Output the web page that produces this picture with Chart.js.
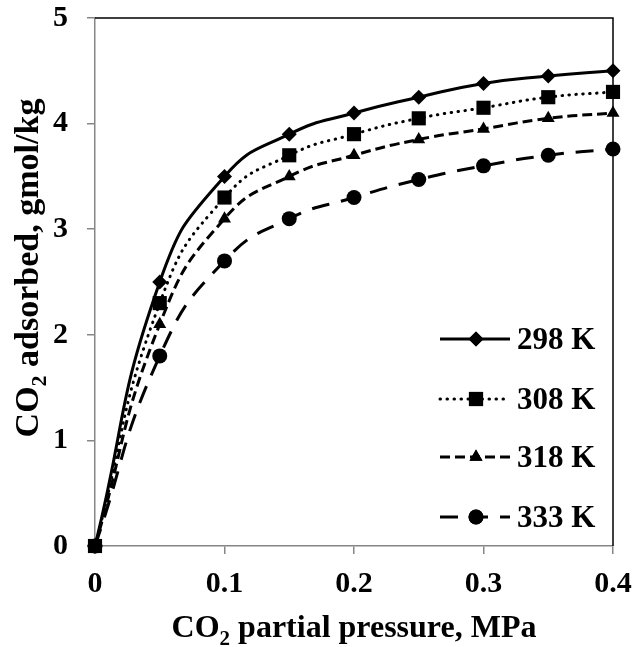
<!DOCTYPE html>
<html>
<head>
<meta charset="utf-8">
<script src="https://cdn.jsdelivr.net/npm/chart.js@4.4.1/dist/chart.umd.min.js"></script>
<style>
  html, body { margin: 0; padding: 0; background: #fff; }
  #wrap { width: 644px; height: 647px; }
</style>
</head>
<body>
<div id="wrap"><canvas id="isoChart" width="644" height="647"></canvas></div>
<script>
// Adsorption isotherm data
const pressure = [0, 0.05, 0.1, 0.15, 0.2, 0.25, 0.3, 0.35, 0.4];
const k298 = [0, 2.5, 3.5, 3.9, 4.1, 4.25, 4.38, 4.45, 4.5];
const k308 = [0, 2.3, 3.3, 3.7, 3.9, 4.05, 4.15, 4.25, 4.3];
const k318 = [0, 2.1, 3.1, 3.5, 3.7, 3.85, 3.95, 4.05, 4.1];
const k333 = [0, 1.8, 2.7, 3.1, 3.3, 3.47, 3.6, 3.7, 3.76];
const seriesLabels = ['298 K', '308 K', '318 K', '333 K'];

const FONT = "'Liberation Serif', 'Times New Roman', serif";
const AXIS_GREY = '#868686';

function toPoints(ys) {
  return pressure.map((x, i) => ({ x: x, y: ys[i] }));
}

const styles = [
  { pointStyle: 'rectRot', radius: 7.5, dash: [], cap: 'butt', order: 1 },
  { pointStyle: 'rect', radius: 10, dash: [0.5, 6.5], cap: 'round', order: 0 },
  { pointStyle: 'triangle', radius: 7.5, dash: [10, 5], cap: 'butt', order: 2 },
  { pointStyle: 'circle', radius: 7.5, dash: [18, 12], cap: 'butt', order: 3 },
];

const datasets = [k298, k308, k318, k333].map((vals, i) => ({
  label: seriesLabels[i],
  data: toPoints(vals),
  borderColor: '#000',
  backgroundColor: '#000',
  borderWidth: 3,
  borderDash: styles[i].dash,
  borderCapStyle: styles[i].cap,
  tension: 0.5,
  pointStyle: styles[i].pointStyle,
  pointRadius: styles[i].radius,
  pointBorderWidth: 0,
  pointBackgroundColor: '#000',
  order: styles[i].order,
  clip: false,
}));

// Top/right frame, legend and axis titles (with subscript 2)
const extras = {
  id: 'extras',
  beforeDatasetsDraw(chart) {
    const { ctx, chartArea: a } = chart;
    ctx.save();
    ctx.strokeStyle = '#000';
    ctx.lineWidth = 1.5;
    ctx.beginPath();
    ctx.moveTo(a.left, a.top);
    ctx.lineTo(a.right, a.top);
    ctx.lineTo(a.right, a.bottom);
    ctx.stroke();
    ctx.restore();
  },
  afterDraw(chart) {
    const { ctx, chartArea: a } = chart;
    ctx.save();

    // legend
    const rows = [339, 399, 457, 517];
    seriesLabels.forEach((lab, i) => {
      const y = rows[i];
      ctx.strokeStyle = '#000';
      ctx.lineWidth = 3;
      ctx.lineCap = styles[i].cap;
      ctx.setLineDash(styles[i].dash);
      ctx.beginPath();
      ctx.moveTo(440, y);
      ctx.lineTo(510, y);
      ctx.stroke();
      ctx.setLineDash([]);
      ctx.fillStyle = '#000';
      Chart.helpers.drawPoint(ctx, {
        pointStyle: styles[i].pointStyle,
        radius: styles[i].radius,
        rotation: 0,
        borderWidth: 0,
      }, 476, y);
      ctx.fill();
      ctx.font = 'bold 31px ' + FONT;
      ctx.textAlign = 'left';
      ctx.textBaseline = 'alphabetic';
      ctx.fillText(lab, 517, y + 10);
    });

    // axis titles
    const drawTitle = (pre, post, cx, baseY, size) => {
      const big = 'bold ' + size + 'px ' + FONT;
      const small = 'bold ' + Math.round(size * 0.66) + 'px ' + FONT;
      ctx.font = big;
      const w1 = ctx.measureText(pre).width;
      const w3 = ctx.measureText(post).width;
      ctx.font = small;
      const w2 = ctx.measureText('2').width;
      let x = cx - (w1 + w2 + w3) / 2;
      ctx.textAlign = 'left';
      ctx.textBaseline = 'alphabetic';
      ctx.font = big;
      ctx.fillText(pre, x, baseY);
      x += w1;
      ctx.font = small;
      ctx.fillText('2', x, baseY + 8);
      x += w2;
      ctx.font = big;
      ctx.fillText(post, x, baseY);
    };
    ctx.fillStyle = '#000';
    drawTitle('CO', ' partial pressure, MPa', (a.left + a.right) / 2, 637, 32);

    ctx.save();
    ctx.translate(38, 268);
    ctx.rotate(-Math.PI / 2);
    drawTitle('CO', ' adsorbed, gmol/kg', 0, 0, 34);
    ctx.restore();

    ctx.restore();
  }
};

new Chart(document.getElementById('isoChart').getContext('2d'), {
  type: 'line',
  data: { datasets: datasets },
  options: {
    responsive: false,
    animation: false,
    layout: { padding: { left: 0, right: 31, top: 18, bottom: 0 } },
    plugins: { legend: { display: false }, tooltip: { enabled: false } },
    scales: {
      x: {
        type: 'linear',
        min: 0,
        max: 0.4,
        afterFit: (s) => { s.height = 101; s.paddingLeft = 0; s.paddingRight = 0; },
        border: { color: AXIS_GREY, width: 1.5 },
        grid: { drawOnChartArea: false, color: AXIS_GREY, lineWidth: 1.5, tickLength: 8 },
        ticks: {
          stepSize: 0.1,
          padding: 12,
          color: '#000',
          font: { family: FONT, size: 30, weight: 'bold' },
          callback: (v) => String(+v.toFixed(1)),
        },
      },
      y: {
        min: 0,
        max: 5,
        afterFit: (s) => { s.width = 95; s.paddingTop = 0; s.paddingBottom = 0; },
        border: { color: AXIS_GREY, width: 1.5 },
        grid: { drawOnChartArea: false, color: AXIS_GREY, lineWidth: 1.5, tickLength: 8 },
        ticks: {
          stepSize: 1,
          padding: 19,
          color: '#000',
          font: { family: FONT, size: 30, weight: 'bold' },
        },
      },
    },
  },
  plugins: [extras],
});
</script>
</body>
</html>
